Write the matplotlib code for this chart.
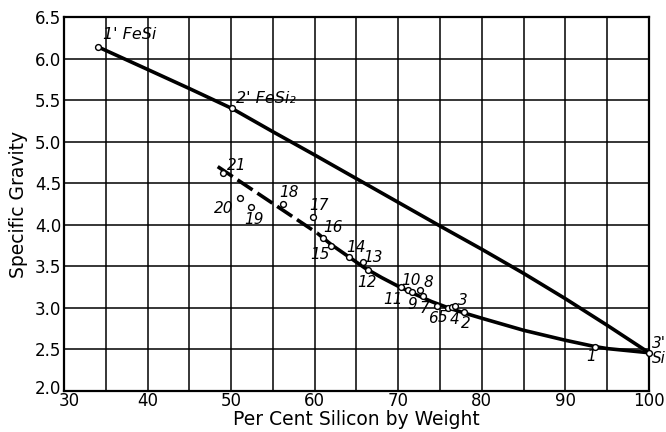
import numpy as np
import matplotlib
matplotlib.use("Agg")
from matplotlib import pyplot as plt
from matplotlib.transforms import ScaledTranslation

# Silicide compounds (upper curve) and alloy samples (lower curve)
compound_x = [34.1, 50.1, 100.0]
compound_y = [6.14, 5.40, 2.46]

upper_x = [34.1, 40, 45, 50.1, 55, 60, 65, 70, 75, 80, 85, 90, 95, 100]
upper_y = [6.14, 5.87, 5.64, 5.40, 5.12, 4.84, 4.555, 4.27, 3.985, 3.705, 3.415, 3.11, 2.79, 2.46]

dashed_x = [48.4, 60.3]
dashed_y = [4.70, 3.90]

lower_x = [60.3, 62, 64, 66, 68, 70, 72, 74, 76, 78, 80, 85, 90, 93.5, 95, 100]
lower_y = [3.90, 3.76, 3.62, 3.48, 3.365, 3.26, 3.165, 3.075, 3.00, 2.935, 2.875,
           2.73, 2.61, 2.535, 2.51, 2.46]

sample_no = [21, 20, 19, 18, 17, 16, 15, 14, 13, 12, 11,
             10, 9, 8, 7, 6, 5, 4, 3, 2, 1]
sample_x = [49.06, 51.06, 52.34, 56.24, 59.76, 60.96, 61.91, 64.14, 65.78, 66.34, 70.33,
            71.2, 71.68, 72.64, 72.92, 74.67, 75.95, 76.43, 76.79, 77.86, 93.5]
sample_y = [4.62, 4.32, 4.21, 4.25, 4.09, 3.84, 3.745, 3.61, 3.55, 3.45, 3.255,
            3.21, 3.195, 3.215, 3.14, 3.02, 3.00, 3.005, 3.02, 2.955, 2.53]

# label offsets in pixels (dx, dy)
sample_off = [(13, 8), (-16, -10), (3, -12), (6, 12), (6, 12), (10, 11), (-11, -9),
              (7, 10), (10, 5), (-1, -12), (-8, -13), (3, 10), (0, -13), (8, 8),
              (2, -12), (-4, -12), (-5, -10), (3, -12), (8, 6), (2, -12), (-4, -10)]

fig = plt.figure(figsize=(6.66, 4.32), dpi=100)
ax = fig.add_axes([0.096, 0.095, 0.8785, 0.8655])

ax.plot(upper_x, upper_y, color="black", lw=2.6, solid_capstyle="butt",
        solid_joinstyle="round", zorder=3)
ax.plot(dashed_x, dashed_y, color="black", lw=2.6, dashes=(5, 1.6), zorder=3)
ax.plot(lower_x, lower_y, color="black", lw=2.6, solid_capstyle="butt",
        solid_joinstyle="round", zorder=3)

ax.plot(compound_x, compound_y, "o", ms=4.2, mfc="white", mec="black", mew=1.0,
        zorder=5, clip_on=False)
ax.plot(sample_x, sample_y, "o", ms=4.2, mfc="white", mec="black", mew=1.0, zorder=5)

px = 72 / fig.dpi
for n, x, y, (dx, dy) in zip(sample_no, sample_x, sample_y, sample_off):
    ax.annotate(str(n), (x, y), xytext=(dx * px, dy * px), textcoords="offset points",
                ha="center", va="center", fontsize=11, style="italic")

ax.annotate("1' FeSi", (compound_x[0], compound_y[0]), xytext=(31 * px, 12 * px),
            textcoords="offset points", ha="center", va="center", fontsize=11.5, style="italic")
ax.annotate("2' FeSi₂", (compound_x[1], compound_y[1]), xytext=(34 * px, 10 * px),
            textcoords="offset points", ha="center", va="center", fontsize=11.5, style="italic")
ax.annotate("3'", (compound_x[2], compound_y[2]), xytext=(3 * px, 9 * px),
            textcoords="offset points", ha="left", va="center", fontsize=11,
            style="italic", annotation_clip=False)
ax.annotate("Si", (compound_x[2], compound_y[2]), xytext=(3 * px, -6 * px),
            textcoords="offset points", ha="left", va="center", fontsize=11,
            style="italic", annotation_clip=False)

ax.set_xlim(30, 100)
ax.set_ylim(2.0, 6.5)
ax.set_xticks(np.arange(30, 101, 5))
ax.set_xticklabels([str(v) if v % 10 == 0 else "" for v in range(30, 101, 5)])
ax.set_yticks(np.arange(2.0, 6.51, 0.5))
ax.set_yticklabels([f"{v:.1f}" for v in np.arange(2.0, 6.51, 0.5)])
ax.tick_params(length=0, labelsize=12)
ax.tick_params(axis="x", pad=1)
ax.tick_params(axis="y", pad=2)
ax.grid(True, color="black", lw=1.1)
for s in ax.spines.values():
    s.set_linewidth(1.6)

# keep the corner labels "30" and "2.0" apart
fig.canvas.draw()
lbl = ax.get_xticklabels()[0]
lbl.set_transform(lbl.get_transform() + ScaledTranslation(5 / 100, 0, fig.dpi_scale_trans))
lbl = ax.get_yticklabels()[0]
lbl.set_transform(lbl.get_transform() + ScaledTranslation(0, 4 / 100, fig.dpi_scale_trans))

ax.set_xlabel("Per Cent Silicon by Weight", fontsize=13.5, labelpad=0)
ax.set_ylabel("Specific Gravity", fontsize=13.5, labelpad=5)

fig.savefig("out.png", dpi=100)
